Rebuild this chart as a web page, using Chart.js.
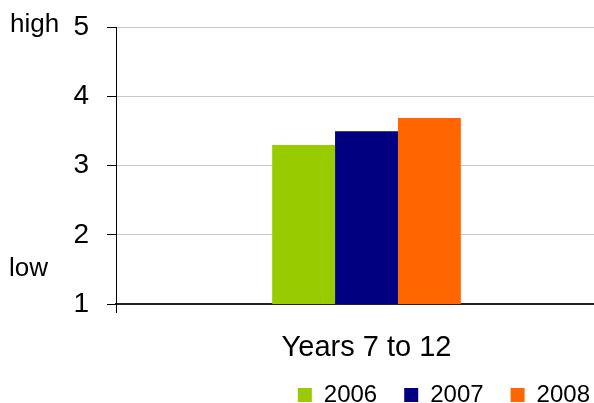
<!DOCTYPE html>
<html>
<head>
<meta charset="utf-8">
<script src="https://cdn.jsdelivr.net/npm/chart.js@4"></script>
<style>
  html, body { margin: 0; padding: 0; background: #fff; }
  #wrap { width: 594px; height: 403px; overflow: hidden; position: relative; }
  #chart { display: block; }
</style>
</head>
<body>
<div id="wrap">
  <canvas id="chart" width="617" height="403" style="width:617px;height:403px"></canvas>
</div>
<script>
const categories = ["Years 7 to 12"];
const seriesNames = ["2006", "2007", "2008"];
const werte2006 = [3.3];
const werte2007 = [3.5];
const werte2008 = [3.69];
const farben = ["#99cc00", "#000080", "#ff6600"];

const skalaMin = 1;
const skalaMax = 5;
const skalaSchritt = 1;
const skalaOben = "high";
const skalaUnten = "low";

const schrift = "'Liberation Sans', Arial, sans-serif";

// "high" / "low" next to the top and bottom of the value axis
const randText = {
  id: "randText",
  afterDraw(chart) {
    const ctx = chart.ctx;
    ctx.save();
    ctx.fillStyle = "#000";
    ctx.font = "26px " + schrift;
    ctx.textAlign = "left";
    ctx.textBaseline = "alphabetic";
    ctx.fillText(skalaOben, 10, 32);
    ctx.fillText(skalaUnten, 9, 276);
    ctx.restore();
  }
};

const reihen = [werte2006, werte2007, werte2008];

new Chart(document.getElementById("chart"), {
  type: "bar",
  data: {
    labels: categories,
    datasets: reihen.map((werte, i) => ({
      label: seriesNames[i],
      data: werte,
      backgroundColor: farben[i],
      borderWidth: 0,
      barPercentage: 1,
      categoryPercentage: 0.3766
    }))
  },
  options: {
    responsive: false,
    animation: false,
    layout: { padding: { top: 10, left: 0, right: 0, bottom: -14 } },
    plugins: {
      tooltip: { enabled: false },
      legend: {
        position: "bottom",
        align: "end",
        labels: {
          boxWidth: 14,
          boxHeight: 14,
          padding: 27,
          color: "#000",
          font: { family: schrift, size: 24 }
        }
      }
    },
    scales: {
      x: {
        afterFit: s => { s.height = 52; },
        grid: {
          display: true,
          drawOnChartArea: false,
          drawTicks: true,
          tickLength: 9,
          color: "#000",
          tickColor: "#000"
        },
        border: { display: true, color: "#222", width: 2 },
        ticks: {
          color: "#000",
          padding: 18,
          font: { family: schrift, size: 29 }
        }
      },
      y: {
        min: skalaMin,
        max: skalaMax,
        afterFit: s => { s.width = 116; },
        grid: {
          color: "#c8c8c8",
          lineWidth: 1,
          tickLength: 9,
          tickColor: "#000"
        },
        border: { display: true, color: "#000", width: 1 },
        ticks: {
          stepSize: skalaSchritt,
          color: "#000",
          padding: 18,
          font: { family: schrift, size: 28, lineHeight: 0.68 }
        }
      }
    }
  },
  plugins: [randText]
});
</script>
</body>
</html>
